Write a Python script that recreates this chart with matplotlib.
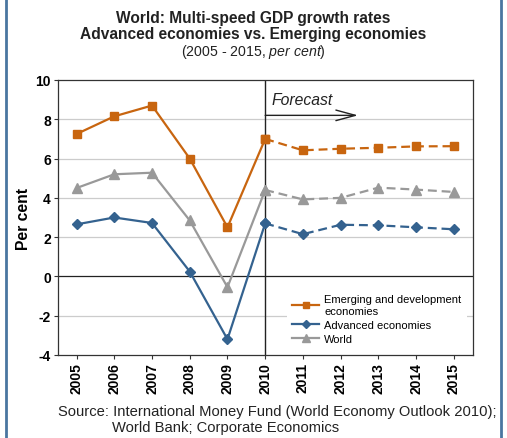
import matplotlib
matplotlib.use("Agg")
import matplotlib.pyplot as plt
from matplotlib.lines import Line2D

plt.rcParams['font.family'] = ['Liberation Sans', 'DejaVu Sans']
plt.rcParams['mathtext.fontset'] = 'custom'
plt.rcParams['mathtext.rm'] = 'Liberation Sans'
plt.rcParams['mathtext.it'] = 'Liberation Sans:italic'

years = [2005, 2006, 2007, 2008, 2009, 2010, 2011, 2012, 2013, 2014, 2015]
emerging = [7.25, 8.15, 8.7, 6.0, 2.5, 7.0, 6.42, 6.5, 6.55, 6.62, 6.63]
advanced = [2.65, 3.0, 2.72, 0.25, -3.2, 2.7, 2.15, 2.63, 2.6, 2.5, 2.4]
world = [4.5, 5.2, 5.28, 2.85, -0.55, 4.4, 3.92, 4.0, 4.52, 4.42, 4.3]
split = 5  # index of 2010, start of forecast

c_em = '#c8650f'
c_adv = '#34628f'
c_wld = '#999999'

fig = plt.figure(figsize=(5.07, 4.39), dpi=100)
ax = fig.add_axes([0.1138, 0.1891, 0.8185, 0.6264])

ax.set_xlim(2004.5, 2015.5)
ax.set_ylim(-4, 10)
ax.set_yticks(range(-4, 11, 2))
ax.set_xticks(years)
ax.set_xticklabels([str(y) for y in years], rotation=90, fontsize=10, fontweight='bold')
ax.set_yticklabels([str(v) for v in range(-4, 11, 2)], fontsize=10, fontweight='bold')
ax.tick_params(axis='both', length=3, width=0.8, color='#333333', pad=2)
for v in [-2, 2, 4, 6, 8]:
    ax.axhline(v, color='#cccccc', lw=0.9, zorder=0)
ax.axhline(0, color='#222222', lw=0.9, zorder=1)
ax.axvline(2010, color='#222222', lw=1.0, zorder=1)
for s in ax.spines.values():
    s.set_color('#333333')
    s.set_linewidth(0.9)

series = [(emerging, c_em, 's', 5.5, 'Emerging and development\neconomies'),
          (advanced, c_adv, 'D', 5.5, 'Advanced economies'),
          (world, c_wld, '^', 7, 'World')]
handles = []
for vals, col, mk, ms, lab in series:
    ax.plot(years[:split + 1], vals[:split + 1], color=col, lw=1.6, marker=mk, ms=ms,
            zorder=3)
    ax.plot(years[split:], vals[split:], color=col, lw=1.6, ls=(0, (4, 2.2)), marker=mk,
            ms=ms, zorder=3)
    handles.append(Line2D([], [], color=col, lw=1.6, marker=mk, ms=ms - 1, label=lab))

leg = ax.legend(handles=handles, loc='lower right', bbox_to_anchor=(1.0, 0.0),
                frameon=True, fontsize=8, handlelength=2.4, handletextpad=0.5,
                labelspacing=0.35, borderpad=0.5)
leg.get_frame().set_edgecolor('none')
leg.get_frame().set_facecolor('white')
leg.get_frame().set_alpha(1)
leg.set_zorder(5)

ax.text(2010.18, 9.0, 'Forecast', fontsize=11.3, style='italic', color='#222222',
        va='center', ha='left')
ax.annotate('', xy=(2012.46, 8.2), xytext=(2010, 8.2),
            arrowprops=dict(arrowstyle='->,head_length=1.4,head_width=0.38', color='#222222',
                            lw=1.0, shrinkA=0, shrinkB=0))

ax.set_ylabel('Per cent', fontsize=11.3, fontweight='bold', labelpad=3)

fig.text(0.5, 1 - 18 / 439, 'World: Multi-speed GDP growth rates', ha='center', va='center',
         fontsize=11.2, fontweight='bold', color='#222222')
fig.text(0.5, 1 - 35 / 439, 'Advanced economies vs. Emerging economies', ha='center',
         va='center', fontsize=11.2, fontweight='bold', color='#222222')
fig.text(0.5, 1 - 52 / 439, '(2005 - 2015, $\\it{per\\ cent}$)', ha='center', va='center',
         fontsize=10.2, color='#222222')

fig.text(58 / 507, 1 - 412 / 439, 'Source: International Money Fund (World Economy Outlook 2010);',
         ha='left', va='center', fontsize=10.6, color='#222222')
fig.text(112 / 507, 1 - 428 / 439, 'World Bank; Corporate Economics',
         ha='left', va='center', fontsize=10.6, color='#222222')

for xp in [5.5 / 507, 500.5 / 507]:
    fig.add_artist(Line2D([xp, xp], [0, 1], transform=fig.transFigure, color='#4a76a0',
                          lw=2))

fig.savefig('out.png', dpi=100)
